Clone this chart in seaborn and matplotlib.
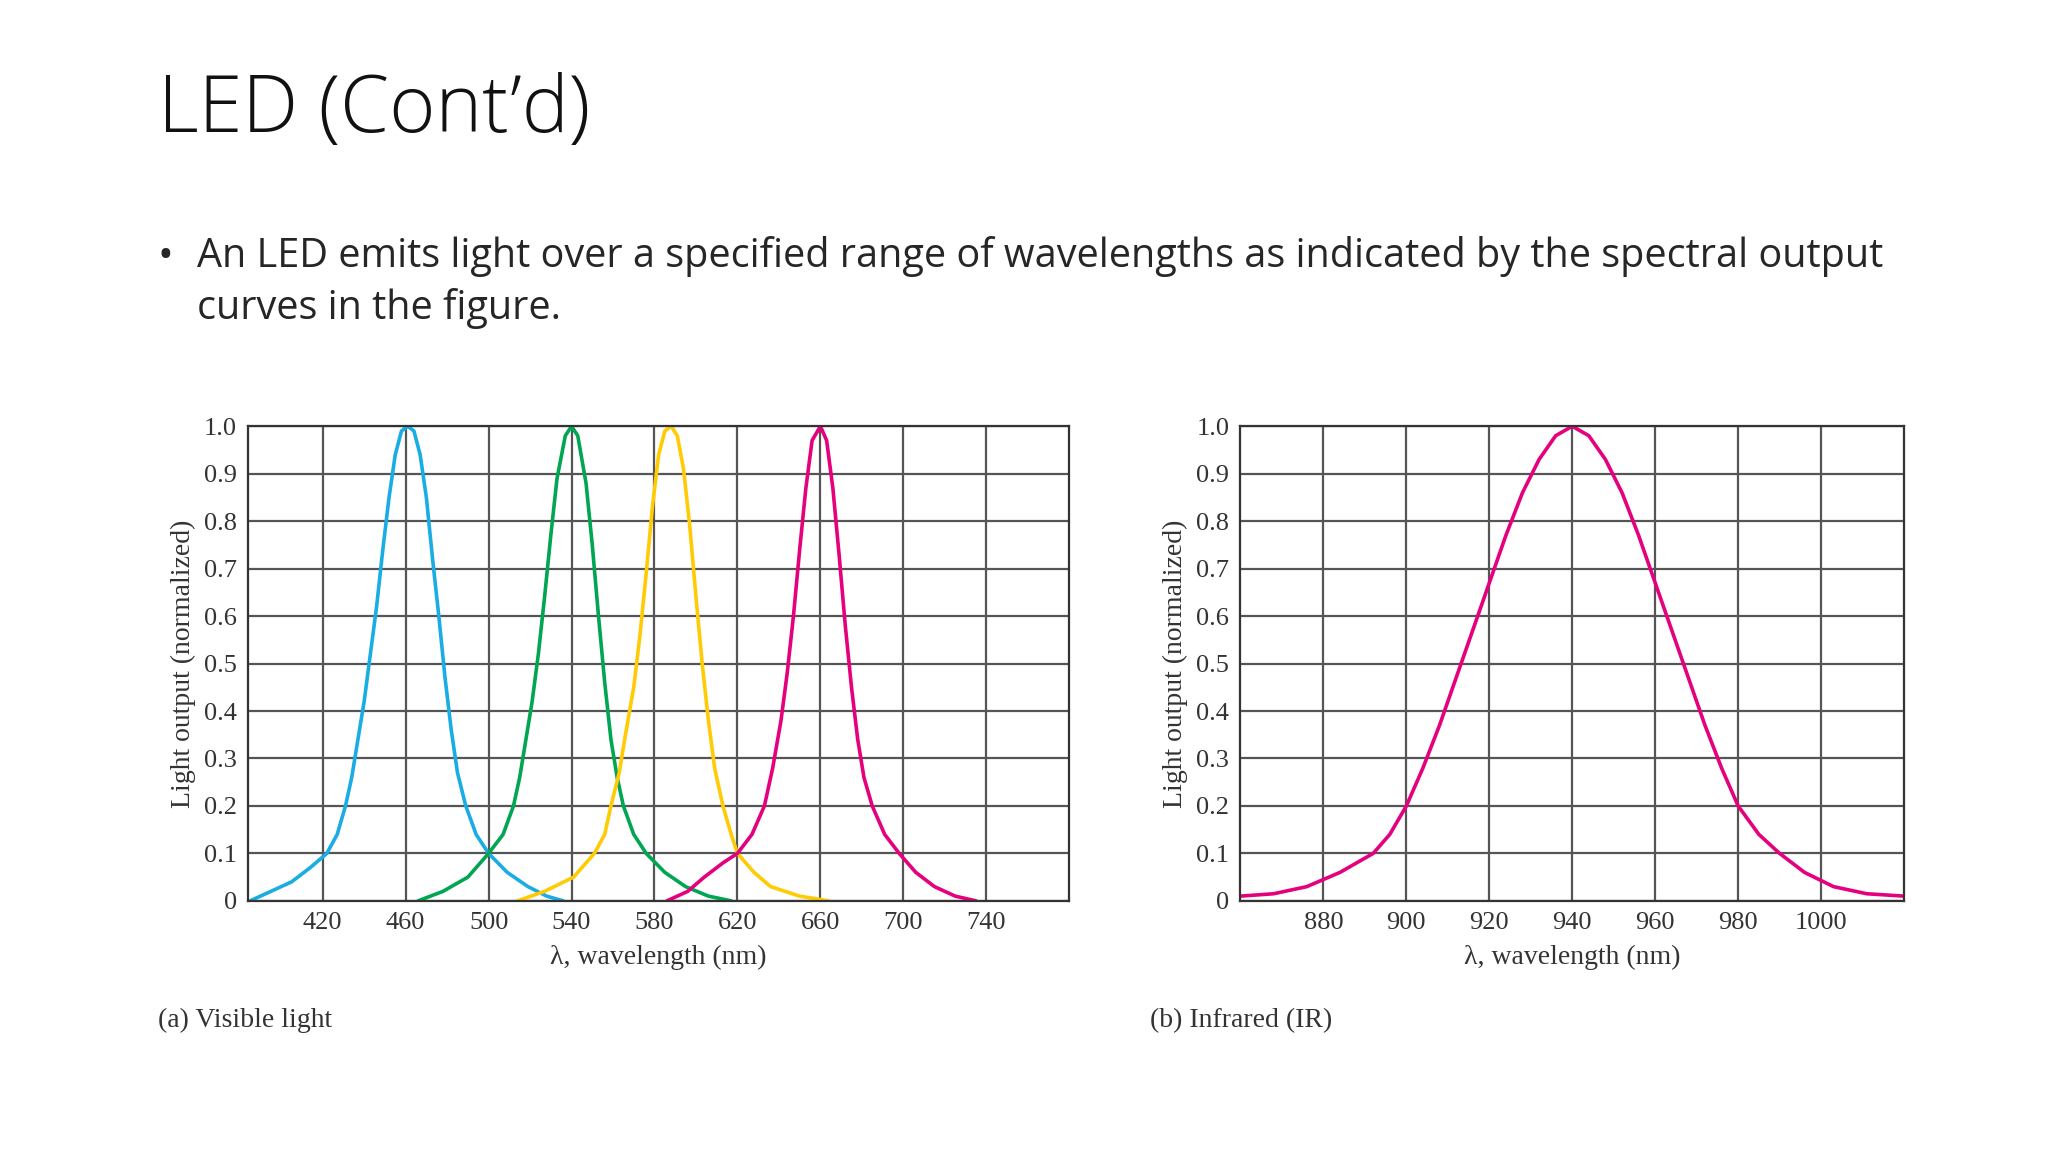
import numpy as np
import pandas as pd
import matplotlib
matplotlib.use("Agg")
import matplotlib.pyplot as plt
import seaborn as sns

# spectral curves (wavelength nm, normalized output)
blue_nm = [385, 395, 405, 414, 422, 427, 431, 434, 437, 440, 443, 446, 449, 452, 455, 458, 461, 464, 467, 470, 473, 476, 479, 482, 485, 489, 494, 500, 509, 519, 528, 536]
blue_y = [0.0, 0.02, 0.04, 0.07, 0.1, 0.14, 0.2, 0.26, 0.34, 0.42, 0.52, 0.62, 0.74, 0.85, 0.94, 0.99, 1.0, 0.99, 0.94, 0.85, 0.72, 0.6, 0.47, 0.36, 0.27, 0.2, 0.14, 0.1, 0.06, 0.03, 0.01, 0.0]
green_nm = [466, 478, 490, 500, 507, 512, 515, 518, 521, 524, 527, 530, 533, 537, 540, 543, 547, 550, 553, 556, 559, 562, 565, 570, 576, 585, 595, 606, 617]
green_y = [0.0, 0.02, 0.05, 0.1, 0.14, 0.2, 0.26, 0.34, 0.42, 0.52, 0.64, 0.77, 0.89, 0.98, 1.0, 0.98, 0.88, 0.75, 0.6, 0.46, 0.34, 0.26, 0.2, 0.14, 0.1, 0.06, 0.03, 0.01, 0.0]
yellow_nm = [514, 527, 541, 551, 556, 559, 563, 566, 570, 573, 576, 579, 582, 585, 588, 591, 594, 597, 600, 603, 606, 609, 613, 617, 620, 628, 636, 650, 664]
yellow_y = [0.0, 0.02, 0.05, 0.1, 0.14, 0.2, 0.27, 0.35, 0.45, 0.56, 0.69, 0.83, 0.94, 0.99, 1.0, 0.98, 0.91, 0.79, 0.64, 0.5, 0.38, 0.28, 0.2, 0.14, 0.1, 0.06, 0.03, 0.01, 0.0]
magenta_nm = [586, 596, 604, 613, 620, 627, 633, 637, 641, 644, 647, 650, 653, 656, 660, 663, 666, 669, 672, 675, 678, 681, 685, 691, 698, 706, 715, 725, 735]
magenta_y = [0.0, 0.02, 0.05, 0.08, 0.1, 0.14, 0.2, 0.28, 0.38, 0.48, 0.6, 0.74, 0.87, 0.97, 1.0, 0.97, 0.87, 0.73, 0.58, 0.45, 0.34, 0.26, 0.2, 0.14, 0.1, 0.06, 0.03, 0.01, 0.0]
ir_nm = [860, 868, 876, 884, 892, 896, 900, 904, 908, 912, 916, 920, 924, 928, 932, 936, 940, 944, 948, 952, 956, 960, 964, 968, 972, 976, 980, 985, 990, 996, 1003, 1011, 1020]
ir_y = [0.01, 0.015, 0.03, 0.06, 0.1, 0.14, 0.2, 0.28, 0.37, 0.47, 0.57, 0.67, 0.77, 0.86, 0.93, 0.98, 1.0, 0.98, 0.93, 0.86, 0.77, 0.67, 0.57, 0.47, 0.37, 0.28, 0.2, 0.14, 0.1, 0.06, 0.03, 0.015, 0.01]

vis_ticks = [420, 460, 500, 540, 580, 620, 660, 700, 740]
ir_ticks = [880, 900, 920, 940, 960, 980, 1000]
y_ticks = [0, 0.1, 0.2, 0.3, 0.4, 0.5, 0.6, 0.7, 0.8, 0.9, 1.0]
y_labels = ["0", "0.1", "0.2", "0.3", "0.4", "0.5", "0.6", "0.7", "0.8", "0.9", "1.0"]

sns.set_style("white")
serif = "Liberation Serif"
fig = plt.figure(figsize=(20.48, 11.52), dpi=100)

fig.text(0.077, 0.903, "LED (Cont\u2019d)", fontsize=57, family="Open Sans", weight="light",
         va="center", color="#111111")
fig.text(0.077, 0.777, "\u2022", fontsize=30, family="Open Sans", va="center")
fig.text(0.096, 0.777, "An LED emits light over a specified range of wavelengths as indicated by the spectral output",
         fontsize=28.5, family="Open Sans", va="center")
fig.text(0.096, 0.732, "curves in the figure.", fontsize=28.5, family="Open Sans", va="center")

ax1 = fig.add_axes([0.1211, 0.218, 0.401, 0.412])
ax2 = fig.add_axes([0.6057, 0.218, 0.324, 0.412])

for nm, y, c in [(blue_nm, blue_y, "#1AADE4"), (green_nm, green_y, "#00A651"),
                 (yellow_nm, yellow_y, "#FFCB05"), (magenta_nm, magenta_y, "#E5007D")]:
    sns.lineplot(x=nm, y=y, ax=ax1, color=c, lw=2.6, sort=False)
sns.lineplot(x=ir_nm, y=ir_y, ax=ax2, color="#E5007D", lw=2.6, sort=False)

for ax, ticks, lims, cap in [(ax1, vis_ticks, (384, 780), "(a) Visible light"),
                              (ax2, ir_ticks, (860, 1020), "(b) Infrared (IR)")]:
    ax.set_xlim(*lims)
    ax.set_ylim(0, 1.0)
    ax.set_xticks(ticks)
    ax.set_xticklabels([str(t) for t in ticks], family=serif, fontsize=19, color="#333333")
    ax.set_yticks(y_ticks)
    ax.set_yticklabels(y_labels, family=serif, fontsize=19, color="#333333")
    ax.tick_params(length=0, pad=8)
    ax.grid(True, color="#555555", lw=1.6)
    for s in ax.spines.values():
        s.set_color("#333333")
        s.set_linewidth(1.6)
    ax.set_axisbelow(True)
    ax.set_xlabel("\u03bb, wavelength (nm)", family=serif, fontsize=20, color="#333333", labelpad=8)
    ax.set_ylabel("Light output (normalized)", family=serif, fontsize=20, color="#333333", labelpad=6)
    pos = ax.get_position()
    fig.text(pos.x0 - 0.044, 0.114, cap, family=serif, fontsize=20, color="#333333", va="center")

fig.savefig("out.png", dpi=100)
